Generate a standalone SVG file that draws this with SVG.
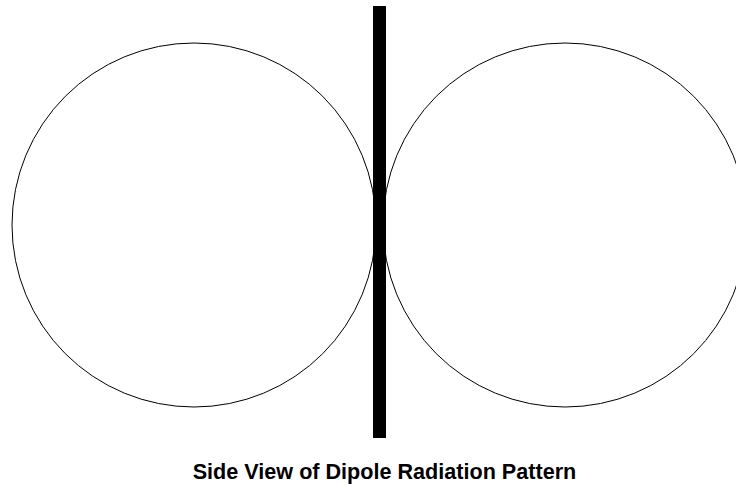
<svg xmlns="http://www.w3.org/2000/svg" width="736" height="486" viewBox="0 0 736 486">
<style>
.lobe{fill:none;stroke:#000;stroke-width:1}
.title{font-family:"Liberation Sans",Arial,sans-serif;font-weight:bold;font-size:21.6px;fill:#000}
</style>
<rect width="736" height="486" fill="#fff"/>
<g id="left-lobe"><circle class="lobe" cx="194" cy="225" r="182"/></g>
<g id="right-lobe"><circle class="lobe" cx="565" cy="225" r="182"/></g>
<g id="dipole"><rect x="373" y="6" width="13" height="432" fill="#000"/></g>
<g id="caption"><text class="title" x="384.5" y="479" text-anchor="middle">Side View of Dipole Radiation Pattern</text></g>
</svg>
